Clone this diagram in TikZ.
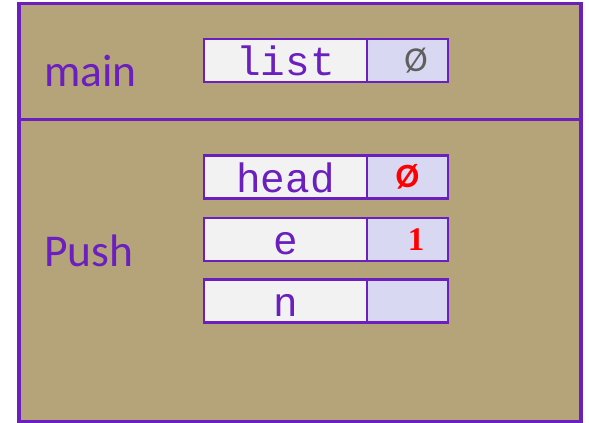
\documentclass[tikz,border=0pt]{standalone}
\usepackage{fontspec}
\setmainfont{Carlito}
\newfontfamily\monofont{Liberation Mono}
\newfontfamily\serifbold{Liberation Serif Bold}
\definecolor{frameviolet}{RGB}{106,31,190}
\definecolor{tan}{RGB}{181,164,122}
\definecolor{lblfill}{RGB}{242,242,242}
\definecolor{valfill}{RGB}{216,216,242}
\definecolor{nullgrey}{RGB}{95,95,95}
\begin{document}
\begin{tikzpicture}[x=1pt,y=-1pt,
  framebox/.style={draw=frameviolet,line width=3.5pt,fill=tan},
  lbl/.style={draw=frameviolet,line width=2.5pt,fill=lblfill,minimum width=163pt,minimum height=43pt,inner sep=0pt,outer sep=0pt,
     font=\monofont\fontsize{41}{41}\selectfont,text=frameviolet,text height=30pt,text depth=0pt},
  val/.style={draw=frameviolet,line width=2.5pt,fill=valfill,minimum width=81pt,minimum height=43pt,inner sep=0pt,outer sep=0pt},
  frametitle/.style={anchor=base west,inner sep=0pt,font=\fontsize{45.5}{45.5}\selectfont,text=frameviolet}
]
\useasboundingbox (0,0) rectangle (589,423);
\fill[white] (0,0) rectangle (589,423);
\draw[framebox] (19,3.5) rectangle (581,421.5);
\draw[draw=frameviolet,line width=3.5pt] (19,119.5) -- (581,119.5);

\node[frametitle] (main) at (44,86) {main};
\node[frametitle] (push) at (44,266) {Push};

\node[lbl] (listL) at (285.5,60.5) {list};
\node[val] (listV) at (407.5,60.5) {\hspace*{17pt}\fontsize{35}{35}\selectfont\color{nullgrey}Ø};

\node[lbl] (headL) at (285.5,177) {head};
\node[val] (headV) at (407.5,177) {\fontsize{34}{34}\selectfont\bfseries\color{red}Ø};

\node[lbl] (eL) at (285.5,239.5) {e};
\node[val] (eV) at (407.5,239.5) {\hspace*{17pt}\serifbold\fontsize{33}{33}\selectfont\color{red}1};

\node[lbl] (nL) at (285.5,301) {n};
\node[val] (nV) at (407.5,301) {};
\end{tikzpicture}
\end{document}
